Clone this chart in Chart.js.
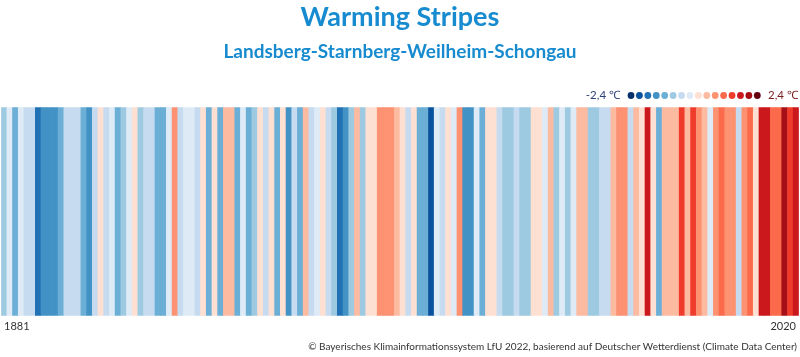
<!DOCTYPE html>
<html>
<head>
<meta charset="utf-8">
<script src="https://cdn.jsdelivr.net/npm/chart.js@4.4.1/dist/chart.umd.min.js"></script>
<style>
html,body{margin:0;padding:0;background:#fff;}
#wrap{width:800px;height:357px;position:relative;}
</style>
</head>
<body>
<div id="wrap"><canvas id="c" width="800" height="357"></canvas></div>
<script>
// Data (temperature anomaly in °C per year)
const firstYear = 1881;
const lastYear = 2020;
const years = Array.from({length: lastYear - firstYear + 1}, (_, i) => String(firstYear + i));
const anomalies = [
  -0.75,-0.15,-1.05,-0.15,-0.45,-0.45,-1.65,-1.35,-1.35,-1.35,
  -1.05,-0.45,-0.45,-0.45,-1.05,-1.35,-0.45, 0.15,-0.45,-0.15,
  -1.05,-0.75,-0.15, 0.15,-0.75,-0.45,-0.45,-1.05,-1.05,-0.15,
   0.75,-0.45,-0.15,-0.15,-0.45, 0.15,-1.05, 0.15,-1.05, 0.45,
   0.45,-1.05,-0.15,-1.05,-0.75, 0.15,-0.45, 0.15,-1.05, 0.15,
  -1.35,-0.45,-1.05, 0.45,-0.45,-0.15, 0.15,-0.45,-0.75,-1.65,
  -1.35,-0.75, 0.45,-0.75, 0.15, 0.15, 0.75, 0.75, 0.75, 0.45,
   0.15,-0.45, 0.15,-1.05,-1.05,-1.95,-0.15,-0.45, 0.15,-0.15,
   0.75,-1.35,-1.35,-0.15,-1.05, 0.15, 0.15,-0.45,-0.75,-0.75,
  -0.45,-0.75,-0.75, 0.15, 0.15,-0.15, 0.45,-0.75,-0.15,-0.75,
  -0.15, 0.45, 0.45,-0.75,-0.75,-0.45,-0.45, 0.45, 0.75, 0.75,
  -0.45, 0.45, 0.15, 1.65, 0.15,-1.05, 0.45, 0.45, 0.45, 1.35,
   0.45, 1.35, 0.75, 0.45,-0.15, 0.75, 1.05, 0.75, 0.75,-0.45,
   0.75, 1.05, 0.15, 1.65, 1.65, 1.05, 1.05, 1.95, 1.35, 1.65
];
const scaleMin = -2.4;
const scaleMax = 2.4;
const palette = ['#08306b','#08519c','#2171b5','#4292c6','#6baed6','#9ecae1','#c6dbef','#deebf7',
                 '#fee0d2','#fcbba1','#fc9272','#fb6a4a','#ef3b2c','#cb181d','#a50f15','#67000d'];
const legendLeft = '-2,4 \u2103';
const legendRight = '2,4 \u2103';
const footer = '\u00A9 Bayerisches Klimainformationssystem LfU 2022, basierend auf Deutscher Wetterdienst (Climate Data Center)';

function colorFor(v){
  const step = (scaleMax - scaleMin) / palette.length;
  let idx = Math.floor((v - scaleMin) / step + 1e-9);
  idx = Math.max(0, Math.min(palette.length - 1, idx));
  return palette[idx];
}

const FONT = 'Lato, "Open Sans", sans-serif';

const extras = {
  id: 'extras',
  afterDraw(chart){
    const ctx = chart.ctx;
    ctx.save();
    // legend
    const cy = 95.5;
    ctx.font = '11.5px ' + FONT;
    ctx.textBaseline = 'middle';
    ctx.textAlign = 'right';
    ctx.fillStyle = '#2c3f78';
    ctx.fillText(legendLeft, 620, cy);
    const x0 = 631, dx = 8.42;
    palette.forEach((c, i) => {
      ctx.beginPath();
      ctx.arc(x0 + i*dx, cy, 3.4, 0, Math.PI*2);
      ctx.fillStyle = c;
      ctx.fill();
    });
    ctx.textAlign = 'left';
    ctx.fillStyle = '#7a1d1d';
    ctx.fillText(legendRight, 768, cy);
    // footer
    ctx.font = '10px ' + FONT;
    ctx.textAlign = 'right';
    ctx.fillStyle = '#333';
    ctx.fillText(footer, 797, 347);
    ctx.restore();
  }
};

new Chart(document.getElementById('c'), {
  type: 'bar',
  data: {
    labels: years,
    datasets: [{
      data: anomalies.map(() => 1),
      backgroundColor: anomalies.map(colorFor),
      borderWidth: 0,
      barPercentage: 1,
      categoryPercentage: 1
    }]
  },
  options: {
    responsive: false,
    animation: false,
    devicePixelRatio: 1,
    layout: {padding: {top: 0, bottom: 20, left: 0, right: 0}},
    plugins: {
      legend: {display: false},
      tooltip: {enabled: false},
      title: {
        display: true,
        text: 'Warming Stripes',
        color: '#178bcf',
        font: {family: FONT, size: 27, weight: 'bold'},
        padding: {top: 1, bottom: 4}
      },
      subtitle: {
        display: true,
        text: 'Landsberg-Starnberg-Weilheim-Schongau',
        color: '#178bcf',
        font: {family: FONT, size: 19, weight: 'bold'},
        padding: {top: 3, bottom: 44}
      }
    },
    scales: {
      x: {
        grid: {display: false, drawTicks: false},
        border: {display: false},
        ticks: {
          autoSkip: false,
          maxRotation: 0,
          minRotation: 0,
          align: 'inner',
          padding: 4,
          color: '#333',
          font: {family: FONT, size: 11},
          callback: (val, i, ticks) => (i === 0 || i === ticks.length - 1) ? years[i] : ''
        }
      },
      y: {display: false, min: 0, max: 1}
    }
  },
  plugins: [extras]
});
</script>
</body>
</html>
